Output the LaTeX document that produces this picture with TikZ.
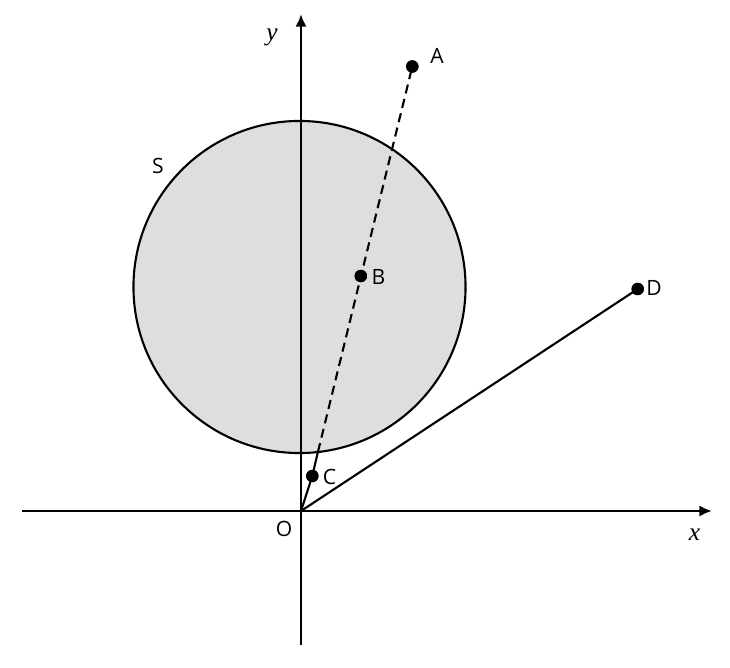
\documentclass[tikz,border=0pt]{standalone}
\usepackage{fontspec}
\newfontfamily\labfont{Open Sans}
\newfontfamily\axfont{Liberation Serif}
\usetikzlibrary{arrows.meta}
\definecolor{diskgray}{RGB}{222,222,222}
\begin{document}
\begin{tikzpicture}[x=0.025cm,y=-0.025cm,
  axis/.style={line width=1.8pt,-{Latex[length=9pt,width=8pt]}},
  curve/.style={line width=1.5pt},
  dashline/.style={line width=1.5pt,dash pattern=on 6.5pt off 4pt},
  dot/.style={circle,fill=black,inner sep=0pt,minimum size=0.31cm},
  lab/.style={font=\labfont\fontsize{15}{17}\selectfont,inner sep=0pt},
  axlab/.style={font=\axfont\itshape\fontsize{18}{20}\selectfont,inner sep=0pt}]
\useasboundingbox (0,0) rectangle (730,668);
% disk S
\node[circle,draw=black,fill=diskgray,line width=1.5pt,minimum size=8.3cm,inner sep=0pt] (S) at (299.5,287) {};
% axes
\coordinate (xl) at (22,511);
\coordinate (xr) at (712,511);
\coordinate (yb) at (301,645);
\coordinate (yt) at (301,14);
\draw[axis] (xl) -- (xr);
\draw[axis] (yb) -- (yt);
% points
\coordinate (O) at (301,511);
\coordinate (E) at (317.9,452);
\node[dot] (A) at (412.3,66.5) {};
\node[dot] (B) at (360.8,276) {};
\node[dot] (C) at (312.3,476) {};
\node[dot] (D) at (637.7,289) {};
% segments
\draw[curve] (O) -- (C.center) -- (E);
\draw[dashline] (E) -- (A.center);
\draw[curve] (O) -- (D.center);
% redraw dots on top
\node[dot] at (A) {};
\node[dot] at (B) {};
\node[dot] at (C) {};
\node[dot] at (D) {};
% labels
\node[lab] (lA) at (437,55.5) {A};
\node[lab] (lB) at (378.5,276.5) {B};
\node[lab] (lC) at (329.5,477) {C};
\node[lab] (lD) at (654,287.5) {D};
\node[lab] (lS) at (158,166) {S};
\node[lab] (lO) at (284,529) {O};
\node[axlab] (lx) at (694.5,535) {x};
\node[axlab] (ly) at (272,37) {y};
\end{tikzpicture}
\end{document}
